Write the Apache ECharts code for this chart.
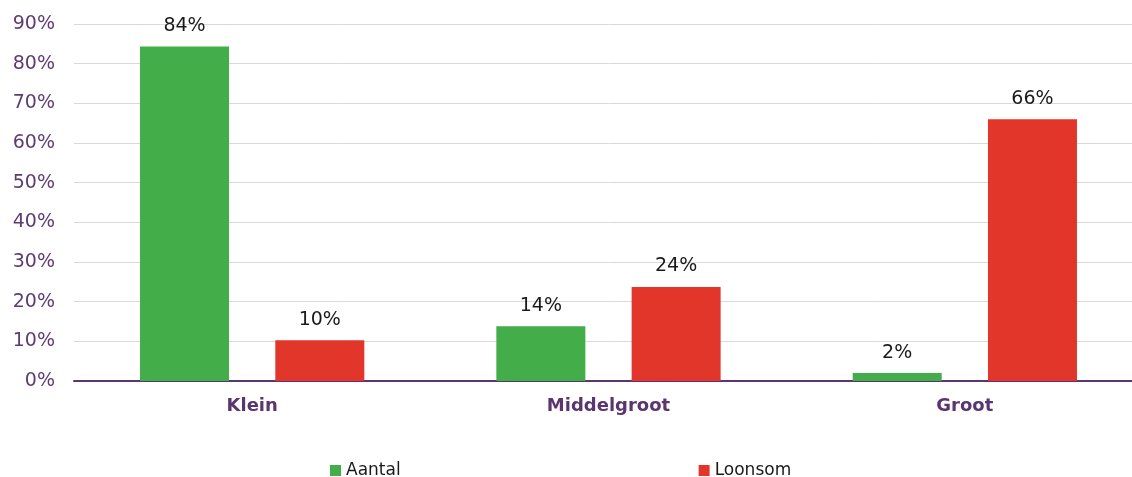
<!DOCTYPE html>
<html>
<head>
<meta charset="utf-8">
<script src="https://cdn.jsdelivr.net/npm/echarts@6/dist/echarts.min.js"></script>
<style>html,body{margin:0;padding:0;background:#fff;overflow:hidden}#c{width:1143px;height:477px}</style>
</head>
<body>
<div id="c"></div>
<script>
var categories = ['Klein', 'Middelgroot', 'Groot'];
var aantal = [84.3, 13.8, 2.0];
var loonsom = [10.3, 23.7, 66.0];
var seriesNames = ['Aantal', 'Loonsom'];
var yTicks = [0, 10, 20, 30, 40, 50, 60, 70, 80, 90];

var FONT = 'Verdana, "DejaVu Sans", sans-serif';
var chart = echarts.init(document.getElementById('c'));
var labelCfg = {
  show: true, position: 'top', distance: 11,
  color: '#1a1a1a', fontSize: 19, fontFamily: FONT,
  formatter: function (p) { return Math.round(p.value) + '%'; }
};
chart.setOption({
  animation: false,
  grid: { left: 74, top: 24, right: 0, bottom: 96, containLabel: false },
  legend: {
    left: 325, top: 457,
    itemWidth: 11, itemHeight: 11, itemGap: 298,
    icon: 'rect',
    textStyle: { color: '#1a1a1a', fontSize: 17, fontFamily: FONT },
    data: seriesNames
  },
  xAxis: {
    type: 'category', data: categories,
    axisLine: { lineStyle: { color: '#5b3570', width: 2 } },
    axisTick: { show: false },
    axisLabel: { color: '#5b3570', fontWeight: 'bold', fontSize: 18, fontFamily: FONT, margin: 16 }
  },
  yAxis: {
    type: 'value', min: yTicks[0], max: yTicks[yTicks.length - 1], interval: 10,
    axisLine: { show: false }, axisTick: { show: false },
    splitLine: { lineStyle: { color: '#d9d9d9', width: 1 } },
    axisLabel: { color: '#5f3b73', fontSize: 19, fontFamily: FONT, margin: 19, formatter: '{value}%' }
  },
  series: [
    { name: seriesNames[0], type: 'bar', data: aantal, barWidth: 89, barGap: '52%',
      itemStyle: { color: '#43ad4a' }, label: labelCfg },
    { name: seriesNames[1], type: 'bar', data: loonsom, barWidth: 89, barGap: '52%',
      itemStyle: { color: '#e13629' }, label: labelCfg }
  ]
});
</script>
</body>
</html>
